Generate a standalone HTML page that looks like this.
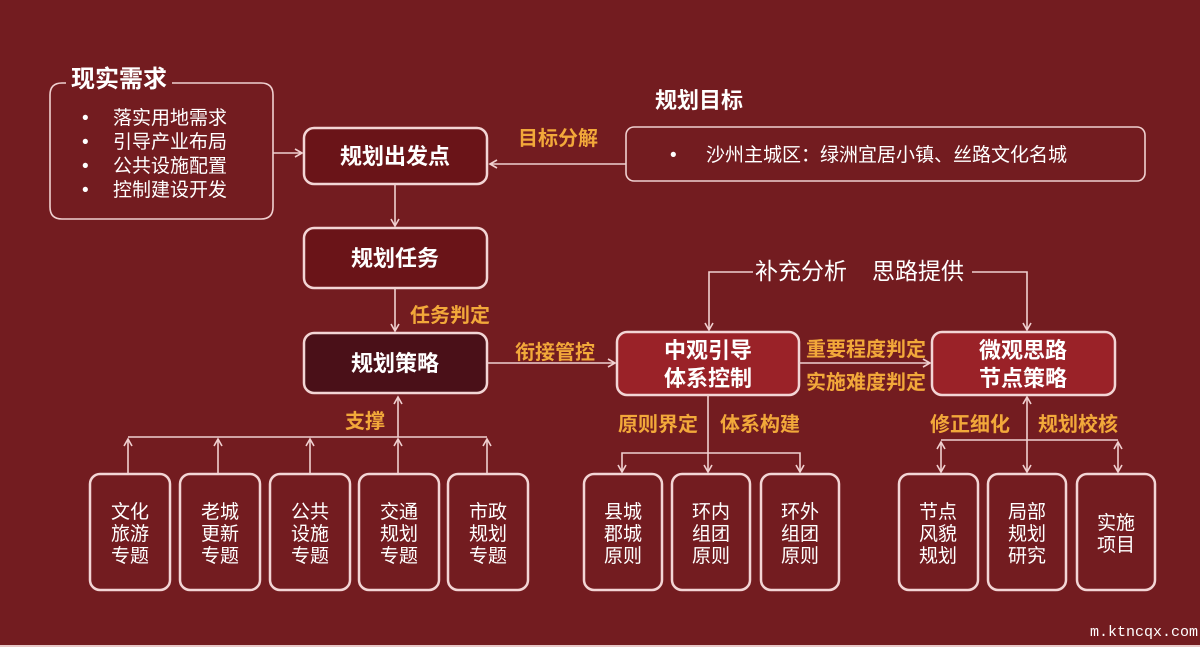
<!DOCTYPE html>
<html><head><meta charset="utf-8"><style>
body{margin:0;width:1200px;height:647px;overflow:hidden;background:#731c20}
svg{display:block}
text{font-family:"Liberation Sans","Noto Sans CJK SC",sans-serif}
.t{fill:#fff;font-size:19px}
.b{fill:#fff;font-size:22px;font-weight:bold}
.o{fill:#f2a83a;font-size:20px;font-weight:bold}
.ln{stroke:#f0d0d0;stroke-width:1.6;fill:none}
.bx{stroke:#f3d5d5;stroke-width:2.5}
</style></head><body>
<svg width="1200" height="647" viewBox="0 0 1200 647">
<defs><marker id="a" markerWidth="10" markerHeight="10" refX="8" refY="5" orient="auto-start-reverse" markerUnits="userSpaceOnUse"><path d="M1,1 L8,5 L1,9" fill="none" stroke="#f0d0d0" stroke-width="1.6"/></marker></defs>
<rect width="1200" height="647" fill="#731c20"/>
<rect y="645" width="1200" height="2" fill="#e8c8c8"/>
<path d="M66,83 L62,83 Q50,83 50,95 L50,207 Q50,219 62,219 L261,219 Q273,219 273,207 L273,95 Q273,83 261,83 L172,83" class="ln" stroke-width="2.2"/>
<text x="71" y="87" class="b" style="font-size:24px">现实需求</text>
<g class="t"><text x="82" y="124">•</text><text x="113" y="124">落实用地需求</text>
<text x="82" y="148">•</text><text x="113" y="148">引导产业布局</text>
<text x="82" y="172">•</text><text x="113" y="172">公共设施配置</text>
<text x="82" y="196">•</text><text x="113" y="196">控制建设开发</text></g>
<line x1="273" y1="153" x2="302" y2="153" class="ln" marker-end="url(#a)"/>
<rect x="304" y="128" width="183" height="56" rx="10" fill="#6a1418" class="bx"/>
<text x="395" y="164" class="b" text-anchor="middle">规划出发点</text>
<rect x="304" y="228" width="183" height="60" rx="10" fill="#6a1418" class="bx"/>
<text x="395" y="266" class="b" text-anchor="middle">规划任务</text>
<rect x="304" y="333" width="183" height="60" rx="10" fill="#4a1018" class="bx"/>
<text x="395" y="371" class="b" text-anchor="middle">规划策略</text>
<line x1="395" y1="184" x2="395" y2="226" class="ln" marker-end="url(#a)"/>
<line x1="395" y1="288" x2="395" y2="331" class="ln" marker-end="url(#a)"/>
<text x="410" y="322" class="o">任务判定</text>
<text x="655" y="108" class="b" style="font-size:22px">规划目标</text>
<rect x="626" y="127" width="519" height="54" rx="8" fill="none" class="ln" stroke-width="2"/>
<text x="670" y="161" class="t">•</text><text x="706" y="161" class="t">沙州主城区：绿洲宜居小镇、丝路文化名城</text>
<line x1="626" y1="164" x2="490" y2="164" class="ln" marker-end="url(#a)"/>
<text x="518" y="145" class="o">目标分解</text>
<line x1="487" y1="363" x2="615" y2="363" class="ln" marker-end="url(#a)"/>
<text x="515" y="359" class="o">衔接管控</text>
<rect x="617" y="332" width="182" height="63" rx="10" fill="#9a2228" class="bx"/>
<text x="708" y="358" class="b" text-anchor="middle">中观引导</text>
<text x="708" y="386" class="b" text-anchor="middle">体系控制</text>
<rect x="932" y="332" width="183" height="63" rx="10" fill="#9a2228" class="bx"/>
<text x="1023" y="358" class="b" text-anchor="middle">微观思路</text>
<text x="1023" y="386" class="b" text-anchor="middle">节点策略</text>
<line x1="799" y1="363" x2="930" y2="363" class="ln" marker-end="url(#a)"/>
<text x="806" y="356" class="o">重要程度判定</text>
<text x="806" y="389" class="o">实施难度判定</text>
<path d="M753,272 L709,272 L709,330" class="ln" marker-end="url(#a)"/>
<path d="M972,272 L1027,272 L1027,330" class="ln" marker-end="url(#a)"/>
<text x="755" y="279" class="t" style="font-size:23px">补充分析</text>
<text x="872" y="279" class="t" style="font-size:23px">思路提供</text>
<line x1="398" y1="437" x2="398" y2="397" class="ln" marker-end="url(#a)"/>
<text x="345" y="428" class="o">支撑</text>
<line x1="128" y1="437" x2="487" y2="437" class="ln"/>
<g class="ln">
<line x1="128" y1="474" x2="128" y2="439" marker-end="url(#a)"/>
<line x1="218" y1="474" x2="218" y2="439" marker-end="url(#a)"/>
<line x1="310" y1="474" x2="310" y2="439" marker-end="url(#a)"/>
<line x1="398" y1="474" x2="398" y2="439" marker-end="url(#a)"/>
<line x1="487" y1="474" x2="487" y2="439" marker-end="url(#a)"/>
</g>
<g fill="none" class="bx" stroke-width="2">
<rect x="90" y="474" width="80" height="116" rx="10"/>
<rect x="180" y="474" width="80" height="116" rx="10"/>
<rect x="270" y="474" width="80" height="116" rx="10"/>
<rect x="359" y="474" width="80" height="116" rx="10"/>
<rect x="448" y="474" width="80" height="116" rx="10"/>
<rect x="584" y="474" width="78" height="116" rx="10"/>
<rect x="672" y="474" width="78" height="116" rx="10"/>
<rect x="761" y="474" width="78" height="116" rx="10"/>
<rect x="899" y="474" width="79" height="116" rx="10"/>
<rect x="988" y="474" width="78" height="116" rx="10"/>
<rect x="1077" y="474" width="78" height="116" rx="10"/>
</g>
<g class="t" text-anchor="middle">
<text x="130" y="518">文化</text><text x="130" y="540">旅游</text><text x="130" y="562">专题</text>
<text x="220" y="518">老城</text><text x="220" y="540">更新</text><text x="220" y="562">专题</text>
<text x="310" y="518">公共</text><text x="310" y="540">设施</text><text x="310" y="562">专题</text>
<text x="399" y="518">交通</text><text x="399" y="540">规划</text><text x="399" y="562">专题</text>
<text x="488" y="518">市政</text><text x="488" y="540">规划</text><text x="488" y="562">专题</text>
<text x="623" y="518">县城</text><text x="623" y="540">郡城</text><text x="623" y="562">原则</text>
<text x="711" y="518">环内</text><text x="711" y="540">组团</text><text x="711" y="562">原则</text>
<text x="800" y="518">环外</text><text x="800" y="540">组团</text><text x="800" y="562">原则</text>
<text x="938" y="518">节点</text><text x="938" y="540">风貌</text><text x="938" y="562">规划</text>
<text x="1027" y="518">局部</text><text x="1027" y="540">规划</text><text x="1027" y="562">研究</text>
<text x="1116" y="529">实施</text><text x="1116" y="551">项目</text>
</g>
<line x1="708" y1="395" x2="708" y2="472" class="ln" marker-end="url(#a)"/>
<path d="M622,472 L622,453 L800,453 L800,472" class="ln" marker-start="url(#a)" marker-end="url(#a)"/>
<text x="618" y="431" class="o">原则界定</text>
<text x="720" y="431" class="o">体系构建</text>
<line x1="1027" y1="397" x2="1027" y2="472" class="ln" marker-start="url(#a)" marker-end="url(#a)"/>
<line x1="941" y1="440" x2="1118" y2="440" class="ln"/>
<line x1="941" y1="442" x2="941" y2="472" class="ln" marker-start="url(#a)" marker-end="url(#a)"/>
<line x1="1118" y1="442" x2="1118" y2="472" class="ln" marker-start="url(#a)" marker-end="url(#a)"/>
<text x="930" y="431" class="o">修正细化</text>
<text x="1038" y="431" class="o">规划校核</text>
<text x="1198" y="636" fill="#fff" text-anchor="end" style="font-family:'Liberation Mono',monospace;font-size:15px">m.ktncqx.com</text>
</svg>
</body></html>
